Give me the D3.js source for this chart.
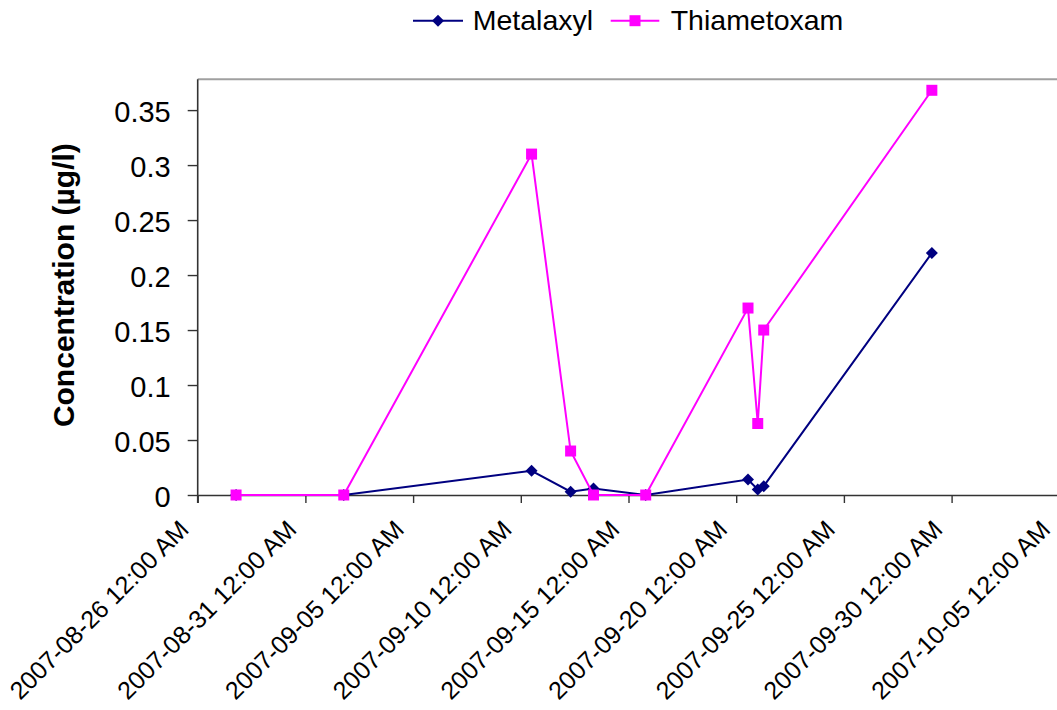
<!DOCTYPE html>
<html>
<head>
<meta charset="utf-8">
<script src="https://cdn.jsdelivr.net/npm/d3@7"></script>
<style>
  html, body { margin: 0; padding: 0; background: #fff; }
  svg { display: block; font-family: "Liberation Sans", Arial, sans-serif; }
</style>
</head>
<body>
<svg id="chart" width="1057" height="710"></svg>
<script>
// ---- data ----
const sampleDates = ["2007-08-27T18:45", "2007-09-01T18:45", "2007-09-10T12:00", "2007-09-12T07:30",
  "2007-09-13T09:00", "2007-09-15T19:10", "2007-09-20T13:10", "2007-09-21T00:00",
  "2007-09-21T06:40", "2007-09-29T02:00"];
const metalaxyl = [0, 0, 0.022, 0.003, 0.006, 0, 0.014, 0.005, 0.008, 0.22];
const thiametoxam = [0, 0, 0.31, 0.04, 0, 0, 0.17, 0.065, 0.15, 0.368];
const seriesNames = ["Metalaxyl", "Thiametoxam"];
const xTickDates = ["2007-08-26", "2007-08-31", "2007-09-05", "2007-09-10", "2007-09-15",
  "2007-09-20", "2007-09-25", "2007-09-30", "2007-10-05"];
const yTickValues = [0, 0.05, 0.1, 0.15, 0.2, 0.25, 0.3, 0.35];
const yTickLabels = ["0", "0.05", "0.1", "0.15", "0.2", "0.25", "0.3", "0.35"];
const yTitle = "Concentration (µg/l)";

// ---- layout ----
const svg = d3.select("#chart");
const pLeft = 197.7, pRight = 1059.3, pTop = 79.3, pBottom = 495;
const parseT = d3.utcParse("%Y-%m-%dT%H:%M");
const parseD = d3.utcParse("%Y-%m-%d");
const fmt = d3.utcFormat("%Y-%m-%d %I:%M %p");
const FONT = "'Liberation Sans', Arial, sans-serif";

const x = d3.scaleUtc().domain([parseD("2007-08-26"), parseD("2007-10-05")]).range([pLeft, pRight]);
const y = d3.scaleLinear().domain([0, 0.378]).range([pBottom, pTop]);

const axisColor = "#333";

// top border
svg.append("line").attr("x1", pLeft).attr("x2", pRight).attr("y1", pTop).attr("y2", pTop)
  .attr("stroke", "#a0a0a0").attr("stroke-width", 2);

// Y axis
const yAxis = svg.append("g").attr("transform", `translate(${pLeft},0)`)
  .call(d3.axisLeft(y).tickValues(yTickValues).tickFormat((d, i) => yTickLabels[i]).tickSize(10).tickPadding(17));
yAxis.select(".domain").attr("stroke", axisColor).attr("stroke-width", 1.6).attr("d", `M0,${pTop}V${pBottom + 8}`);
yAxis.selectAll(".tick line").attr("stroke", axisColor).attr("stroke-width", 1.4);
yAxis.selectAll(".tick text").attr("font-size", "29px").attr("fill", "#000")
  .attr("font-family", FONT).attr("dy", "0.38em");

// X axis
const xAxis = svg.append("g").attr("transform", `translate(0,${pBottom})`)
  .call(d3.axisBottom(x).tickValues(xTickDates.map(parseD)).tickFormat(fmt).tickSize(8).tickSizeOuter(0));
xAxis.select(".domain").attr("stroke", axisColor).attr("stroke-width", 1.6);
xAxis.selectAll(".tick line").attr("stroke", axisColor).attr("stroke-width", 1.4);
xAxis.selectAll(".tick text")
  .attr("font-size", "25px").attr("fill", "#000")
  .attr("font-family", FONT)
  .attr("text-anchor", "end")
  .attr("y", 0).attr("dy", 0)
  .attr("transform", "translate(-8,36) rotate(-45)");

// Y title
svg.append("text")
  .attr("transform", `translate(73.5,${(pTop + pBottom) / 2 - 2}) rotate(-90)`)
  .attr("text-anchor", "middle")
  .attr("font-family", FONT)
  .attr("font-size", "30px").attr("font-weight", "bold").attr("fill", "#000")
  .text(yTitle);

// lines
const dates = sampleDates.map(parseT);
const series = [
  { name: seriesNames[0], values: metalaxyl, color: "#000080", shape: d3.symbolSquare, size: 72, rot: 45 },
  { name: seriesNames[1], values: thiametoxam, color: "#FF00FF", shape: d3.symbolSquare, size: 121, rot: 0 }
];
const line = d3.line().x(d => x(d[0])).y(d => y(d[1]));

series.forEach(s => {
  const pts = dates.map((d, i) => [d, s.values[i]]);
  svg.append("path").datum(pts).attr("d", line)
    .attr("fill", "none").attr("stroke", s.color).attr("stroke-width", 2);
  svg.append("g").selectAll("path").data(pts).join("path")
    .attr("transform", d => `translate(${x(d[0])},${y(d[1])}) rotate(${s.rot})`)
    .attr("d", d3.symbol().type(s.shape).size(s.size))
    .attr("fill", s.color);
});

// legend
const legendItems = [
  { x1: 413, x2: 463, mx: 438, tx: 472.7 },
  { x1: 610.7, x2: 659.3, mx: 635, tx: 670.7 }
];
legendItems.forEach((L, i) => {
  const s = series[i];
  const g = svg.append("g");
  g.append("line").attr("x1", L.x1).attr("x2", L.x2).attr("y1", 20.7).attr("y2", 20.7)
    .attr("stroke", s.color).attr("stroke-width", 2);
  g.append("path").attr("transform", `translate(${L.mx},20.7) rotate(${s.rot})`)
    .attr("d", d3.symbol().type(s.shape).size(s.size)).attr("fill", s.color);
  g.append("text").attr("x", L.tx).attr("y", 29.5).attr("font-size", "28.5px")
    .attr("font-family", FONT).attr("fill", "#000")
    .text(s.name);
});
</script>
</body>
</html>
